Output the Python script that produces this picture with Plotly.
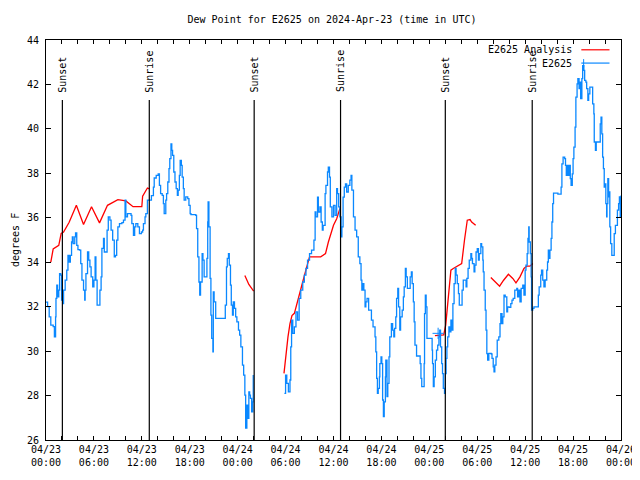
import pandas as pd
import plotly.graph_objects as go

START = pd.Timestamp("2024-04-23 00:00")

# ---- E2625 observations (hours since 04/23 00:00 UTC, degrees F) ----
blue_hours_a = [0.0, 0.2, 0.4, 0.6, 0.9, 1.05, 1.2, 1.25, 1.35, 1.45, 1.6, 1.7, 1.85, 1.95, 2.1, 2.2, 2.4, 2.6,
                2.75, 2.9, 3.05, 3.2, 3.3, 3.4, 3.6, 3.7, 3.85, 4.0, 4.2, 4.35, 4.5, 4.7, 4.85, 4.9, 5.0, 5.2,
                5.35, 5.5, 5.65, 5.85, 6.0, 6.15, 6.25, 6.4, 6.7, 6.75, 6.9, 7.0, 7.2, 7.3, 7.5, 7.65, 7.8, 8.0,
                8.15, 8.35, 8.55, 8.7, 8.85, 9.0, 9.2, 9.5, 9.7, 9.9, 10.0, 10.2, 10.65, 10.75, 10.95, 11.1,
                11.25, 11.5, 11.7, 11.95, 12.1, 12.2, 12.4, 12.5, 12.7, 13.0, 13.2, 13.45, 13.55, 13.8, 14.05,
                14.2, 14.35, 14.55, 14.7, 14.8, 15.0, 15.1, 15.25, 15.4, 15.5, 15.65, 15.75, 15.85, 16.0, 16.15,
                16.3, 16.45, 16.55, 16.7, 16.8, 16.95, 17.05, 17.2, 17.3, 17.5, 17.75, 17.9, 18.05, 18.15, 18.75,
                18.85, 19.0, 19.15, 19.25, 19.35, 19.55, 19.65, 19.8, 20.05, 20.15, 20.25, 20.3, 20.4, 20.55,
                20.65, 20.75, 20.9, 20.95, 21.05, 21.25, 22.3, 22.45, 22.6, 22.7, 22.85, 22.95, 23.1, 23.2,
                23.35, 23.45, 23.6, 23.75, 23.9, 24.1, 24.25, 24.4, 24.6, 24.75, 24.9, 25.0, 25.15, 25.25, 25.4,
                25.5, 25.6, 25.75, 25.9, 25.95]
blue_vals_a = [32.2, 32.0, 31.54, 31.17, 31.1, 30.64, 31.54, 32.37, 32.97, 32.44, 32.74, 33.49, 33.42, 32.29,
               32.14, 32.74, 33.19, 33.64, 34.31, 34.01, 34.31, 34.91, 35.14, 34.84, 35.14, 35.32, 34.76, 34.57,
               34.54, 33.94, 33.19, 32.74, 32.29, 32.74, 33.49, 34.46, 34.09, 33.79, 33.34, 32.89, 33.19, 34.24,
               33.19, 32.07, 32.07, 32.74, 33.34, 34.62, 35.07, 34.46, 34.46, 35.44, 36.04, 35.89, 35.44, 34.99,
               34.24, 34.31, 34.99, 35.59, 35.74, 35.78, 35.89, 36.79, 36.04, 36.19, 36.11, 35.74, 35.21, 35.59,
               35.74, 35.59, 35.29, 35.36, 35.44, 35.74, 36.04, 36.19, 36.79, 36.79, 37.0, 37.38, 37.79, 37.91,
               37.98, 37.46, 37.09, 37.01, 36.64, 36.19, 36.79, 37.09, 37.61, 38.21, 38.66, 39.33, 39.03, 38.81,
               38.06, 37.61, 37.31, 37.01, 37.24, 37.91, 38.58, 38.36, 37.83, 37.31, 36.79, 36.94, 36.86, 36.56,
               36.19, 36.14, 36.11, 35.51, 34.24, 33.11, 32.52, 33.11, 34.39, 34.09, 33.34, 33.34, 34.17, 35.81,
               36.71, 35.59, 33.27, 31.62, 30.57, 29.97, 32.67, 32.22, 31.47, 31.47, 32.07, 33.79, 34.17, 34.39,
               33.87, 32.97, 32.07, 31.62, 32.22, 31.92, 31.54, 31.32, 30.94, 30.72, 30.19, 29.37, 28.92, 28.02,
               26.53, 27.57, 26.97, 28.17, 28.02, 27.87, 27.27, 27.72, 28.92]

blue_hours_b = [29.85, 30.0, 30.15, 30.35, 30.55, 30.65, 30.75, 30.9, 31.1, 31.3, 31.5, 31.7, 31.9, 32.15, 32.35,
                32.55, 32.75, 33.0, 33.25, 33.55, 33.7, 33.8, 34.0, 34.1, 34.3, 34.45, 34.6, 34.7, 34.95, 35.05,
                35.25, 35.35, 35.5, 35.6, 35.8, 36.0, 36.2, 36.4, 36.5, 36.65, 36.8, 36.95, 37.05, 37.2, 37.35,
                37.5, 37.65, 37.85, 38.05, 38.2, 38.3, 38.5, 38.7, 38.9, 39.1, 39.3, 39.45, 39.55, 39.65, 39.8,
                39.95, 40.05, 40.2, 40.4, 40.55, 40.75, 40.95, 41.2, 41.3, 41.4, 41.5, 41.6, 41.75, 41.8, 41.95,
                42.05, 42.15, 42.25, 42.35, 42.5, 42.55, 42.7, 42.8, 42.95, 43.05, 43.25, 43.4, 43.55, 43.65,
                43.8, 43.9, 44.05, 44.15, 44.3, 44.4, 44.6, 44.75, 44.85, 45.0, 45.1, 45.25, 45.4, 45.6, 45.75,
                45.85, 46.0, 46.1, 46.2, 46.4, 46.75, 46.85, 46.95, 47.05, 47.25, 47.35, 47.4, 47.5, 47.6, 47.7,
                48.2, 48.35, 48.4, 48.5, 48.6, 48.75, 48.9, 49.05, 49.2, 49.3, 49.4, 49.55, 49.65, 49.75, 49.9,
                50.0, 50.1, 50.2, 50.3, 50.45, 50.55, 50.7, 50.8, 50.95, 51.1, 51.25, 51.35, 51.5, 51.65, 51.75,
                51.95, 52.1, 52.25, 52.45, 52.6, 52.7, 52.85, 53.0, 53.2, 53.3, 53.4, 53.6, 53.7, 53.85, 54.0,
                54.15, 54.25, 54.45, 54.55, 54.7, 54.75, 54.85, 55.0, 55.1, 55.2, 55.3, 55.45, 55.75, 55.85, 56.0,
                56.1, 56.2, 56.35, 56.5, 56.7, 56.85, 56.95, 57.1, 57.2, 57.35, 57.5, 57.7, 57.8, 58.0, 58.2,
                58.35, 58.5, 58.7, 58.95, 59.05, 59.2, 59.35, 59.5, 59.7, 59.85, 60.0, 60.1, 60.25, 60.35, 60.45,
                60.5, 60.65, 60.75, 60.8, 60.95, 61.1, 61.5, 61.65, 61.75, 61.95, 62.05, 62.2, 62.35, 62.5, 62.7,
                62.8, 62.9, 63.05, 63.1, 63.25, 63.35, 63.45, 63.55, 64.1, 64.4, 64.5, 64.6, 64.75, 64.95, 65.05,
                65.15, 65.25, 65.4, 65.5, 65.65, 65.75, 65.9, 66.0, 66.1, 66.25, 66.35, 66.5, 66.6, 66.75, 66.85,
                66.95, 67.1, 67.2, 67.35, 67.45, 67.6, 67.7, 67.85, 67.95, 68.1, 68.35, 68.45, 68.6, 68.65, 68.8,
                68.9, 69.3, 69.4, 69.5, 69.6, 69.7, 69.8, 69.9, 70.05, 70.1, 70.2, 70.25, 70.35, 70.45, 70.55,
                70.6, 70.7, 70.85, 71.05, 71.15, 71.3, 71.4, 71.55, 71.7, 71.8, 71.9, 72.0]
blue_vals_b = [28.1, 28.92, 28.55, 28.17, 28.7, 30.19, 31.39, 30.8, 31.09, 31.77, 31.39, 32.37, 32.74, 33.11,
               33.42, 33.72, 34.09, 34.39, 34.54, 34.99, 36.26, 36.04, 36.93, 36.26, 36.49, 35.81, 35.44, 35.66,
               37.09, 37.46, 38.06, 38.28, 37.83, 36.49, 36.04, 36.56, 36.11, 37.31, 37.09, 36.49, 36.04, 35.14,
               35.59, 36.93, 37.38, 37.53, 37.16, 37.46, 37.69, 37.91, 37.24, 36.04, 35.44, 35.14, 34.24, 33.94,
               33.19, 32.74, 33.04, 32.74, 31.99, 32.22, 32.37, 31.84, 31.84, 31.39, 31.09, 30.64, 29.97, 28.77,
               28.1, 28.32, 28.84, 29.44, 29.74, 29.44, 27.8, 27.05, 27.72, 28.84, 29.59, 27.95, 28.55, 29.74,
               30.64, 31.24, 30.94, 30.64, 31.02, 31.54, 32.37, 32.82, 31.99, 30.94, 31.54, 31.84, 32.44, 32.89,
               33.72, 33.34, 32.82, 32.82, 33.34, 33.57, 33.04, 32.22, 31.32, 30.27, 29.78, 29.78, 29.44, 28.77,
               28.4, 28.4, 29.44, 31.69, 32.52, 31.99, 30.57, 30.57, 30.04, 29.44, 28.4, 28.84, 29.59, 30.04,
               30.27, 30.64, 30.94, 30.19, 29.44, 28.99, 28.32, 28.1, 28.99, 29.67, 30.19, 30.64, 31.09, 30.87,
               31.39, 30.94, 32.14, 33.04, 33.72, 33.42, 33.04, 32.59, 32.07, 32.07, 32.74, 33.19, 33.19, 32.89,
               33.27, 33.72, 34.09, 34.39, 34.17, 33.94, 33.57, 33.87, 34.46, 34.61, 34.09, 34.39, 34.84, 34.69,
               34.09, 33.57, 32.74, 31.84, 30.94, 29.89, 29.6, 29.9, 29.87, 29.67, 29.29, 29.07, 29.37, 29.74,
               30.49, 30.64, 31.24, 31.69, 31.24, 31.54, 32.52, 32.44, 31.77, 31.99, 31.97, 32.14, 32.29, 32.37,
               32.74, 32.82, 32.44, 32.74, 32.22, 32.82, 32.97, 32.52, 33.64, 33.87, 34.39, 35.07, 35.59, 34.91,
               34.39, 33.34, 31.84, 31.92, 31.99, 31.99, 32.52, 32.89, 33.42, 33.64, 33.19, 32.89, 33.2, 33.64,
               34.01, 34.54, 34.17, 34.54, 35.07, 35.81, 36.64, 37.11, 37.06, 37.06, 37.38, 38.43, 38.73, 38.66,
               38.36, 37.91, 38.36, 37.91, 38.36, 37.76, 37.46, 37.98, 38.66, 39.18, 40.08, 41.43, 42.03, 42.26,
               41.81, 42.1, 41.36, 42.26, 42.85, 42.63, 42.18, 42.1, 41.81, 41.28, 41.58, 41.88, 41.88, 41.13,
               40.68, 39.41, 39.03, 39.41, 39.41, 40.23, 40.53, 39.78, 38.73, 38.21, 37.38, 37.53, 36.64, 36.04,
               36.64, 37.76, 36.94, 37.16, 35.59, 34.84, 34.31, 34.31, 35.29, 35.66, 35.66, 36.34, 36.64, 36.94,
               36.04, 37.0]

blue_marker_hours = [49.1]
blue_marker_vals = [30.8]

# ---- E2625 Analysis (segments) ----
red_hours_1 = [0.6, 0.9, 1.6, 1.9, 2.2, 2.9, 3.8, 4.7, 5.7, 6.7, 7.7, 9.0, 10.0, 10.9, 12.0, 12.1, 12.7, 12.95]
red_vals_1 = [34.0, 34.6, 34.76, 35.3, 35.36, 35.8, 36.56, 35.7, 36.5, 35.77, 36.56, 36.82, 36.76, 36.5, 36.5,
              36.97, 37.34, 37.3]
red_hours_2 = [24.9, 25.4, 26.0]
red_vals_2 = [33.4, 33.0, 32.7]
red_hours_3 = [29.8, 30.05, 30.3, 30.55, 30.8, 31.1, 31.4, 31.8, 32.2, 32.65, 33.0, 34.4, 35.0, 35.35, 35.7,
               36.0, 36.4, 36.8]
red_vals_3 = [29.0, 29.9, 30.64, 31.24, 31.6, 31.7, 32.14, 32.67, 33.19, 33.79, 34.24, 34.24, 34.39, 34.9,
              35.36, 35.66, 35.96, 36.41]
red_hours_4 = [48.7, 49.8, 50.05, 50.3, 50.5, 50.7, 51.0, 51.55, 52.05, 52.4, 52.75, 53.1, 53.3, 53.8]
red_vals_4 = [30.7, 30.73, 31.17, 32.0, 32.9, 33.64, 33.72, 33.82, 33.94, 34.99, 35.89, 35.92, 35.81, 35.66]
red_hours_5 = [55.7, 56.2, 56.8, 57.3, 57.9, 58.45, 58.85, 59.35, 59.85, 60.2, 60.6, 60.95]
red_vals_5 = [33.31, 33.11, 32.92, 33.19, 33.46, 33.27, 33.07, 33.34, 33.72, 33.82, 33.82, 33.94]

# ---- Sun events ----
sun_times = ["2024-04-23 02:03", "2024-04-23 12:56", "2024-04-24 02:04",
             "2024-04-24 12:53", "2024-04-25 02:00", "2024-04-25 12:53"]
sun_labels = ["Sunset", "Sunrise", "Sunset", "Sunrise", "Sunset", "Sunrise"]

BLUE = "#0a88ff"
RED = "#ff0000"
FONT = "DejaVu Sans Mono"
PAGE_OFFSET = 8  # default body margin of the html page
W, H = 640 - PAGE_OFFSET, 480 - PAGE_OFFSET


def to_time(hours):
    return [START + pd.Timedelta(hours=h) for h in hours]


def join(segments):
    xs, ys = [], []
    for i, (hs, vs) in enumerate(segments):
        if i > 0:
            xs.append(START + pd.Timedelta(hours=(xs[-1] - START).total_seconds() / 3600 + 0.1))
            ys.append(None)
        xs += to_time(hs)
        ys += list(vs)
    return xs, ys


bx, by = join([(blue_hours_a, blue_vals_a), (blue_hours_b, blue_vals_b)])
rx, ry = join([(red_hours_1, red_vals_1), (red_hours_2, red_vals_2), (red_hours_3, red_vals_3),
               (red_hours_4, red_vals_4), (red_hours_5, red_vals_5)])

fig = go.Figure()
fig.add_trace(go.Scatter(x=rx, y=ry, mode="lines", line=dict(color=RED, width=1.3),
                         connectgaps=False, showlegend=False))
fig.add_trace(go.Scatter(x=bx, y=by, mode="lines", line=dict(color=BLUE, width=1.3, shape="hv"),
                         connectgaps=False, showlegend=False))
fig.add_trace(go.Scatter(x=to_time(blue_marker_hours), y=blue_marker_vals, mode="markers",
                         marker=dict(symbol="cross-thin", size=8, line=dict(width=1, color=BLUE)),
                         showlegend=False))

# Sunrise / sunset lines and labels
for t, lab in zip(sun_times, sun_labels):
    fig.add_shape(type="line", xref="x", yref="y", x0=t, x1=t, y0=26, y1=41.3,
                  line=dict(color="black", width=1.2))
    fig.add_annotation(x=t, y=41.55, xref="x", yref="y", text=lab, textangle=-90, showarrow=False,
                       xanchor="center", yanchor="bottom", font=dict(family=FONT, size=10, color="black"))

# ticks every 2 hours, labels every 6 hours
tick_times = [START + pd.Timedelta(hours=h) for h in range(0, 73, 2)]
tick_text = [t.strftime("%m/%d<br>%H:%M") if t.hour % 6 == 0 else "" for t in tick_times]

# manual gnuplot-style legend
fig.add_annotation(xref="paper", yref="paper", x=0.918, y=0.9755, text="E2625 Analysis", showarrow=False,
                   xanchor="right", yanchor="middle", font=dict(family=FONT, size=10, color="black"))
fig.add_annotation(xref="paper", yref="paper", x=0.918, y=0.9423, text="E2625", showarrow=False,
                   xanchor="right", yanchor="middle", font=dict(family=FONT, size=10, color="black"))
fig.add_shape(type="line", xref="paper", yref="paper", x0=0.931, x1=0.98, y0=0.9755, y1=0.9755,
              line=dict(color=RED, width=1.2))
fig.add_shape(type="line", xref="paper", yref="paper", x0=0.931, x1=0.98, y0=0.9423, y1=0.9423,
              line=dict(color=BLUE, width=1.2))
fig.add_shape(type="line", xref="paper", yref="paper", x0=0.935, x1=0.935, y0=0.9323, y1=0.9523,
              line=dict(color=BLUE, width=1))

# y-axis title
fig.add_annotation(xref="paper", yref="paper", x=0, y=0.5, xshift=-31, text="degrees F", textangle=-90,
                   showarrow=False, xanchor="center", yanchor="middle",
                   font=dict(family=FONT, size=10, color="black"))

fig.update_layout(
    width=W, height=H,
    margin=dict(l=46 - PAGE_OFFSET, r=19, t=40 - PAGE_OFFSET, b=40, autoexpand=False),
    paper_bgcolor="white", plot_bgcolor="white",
    font=dict(family=FONT, size=10, color="black"),
    title=dict(text="Dew Point for E2625 on 2024-Apr-23 (time in UTC)", x=(332 - PAGE_OFFSET) / W,
               xanchor="center", y=1 - (19 - PAGE_OFFSET) / H, yanchor="middle",
               font=dict(family=FONT, size=10, color="black")),
    showlegend=False,
)
fig.update_xaxes(type="date", range=[START, START + pd.Timedelta(hours=72)], automargin=False,
                 tickmode="array", tickvals=tick_times, ticktext=tick_text,
                 ticks="inside", ticklen=4, tickcolor="black", showgrid=False, zeroline=False,
                 showline=True, linecolor="black", linewidth=1, mirror="ticks",
                 tickfont=dict(family=FONT, size=10, color="black"))
fig.update_yaxes(range=[26, 44], tickmode="linear", tick0=26, dtick=2, automargin=False,
                 ticks="inside", ticklen=5, tickcolor="black", showgrid=False, zeroline=False,
                 showline=True, linecolor="black", linewidth=1, mirror="ticks", ticklabelstandoff=4,
                 tickfont=dict(family=FONT, size=10, color="black"))

fig.write_html("out.html")
